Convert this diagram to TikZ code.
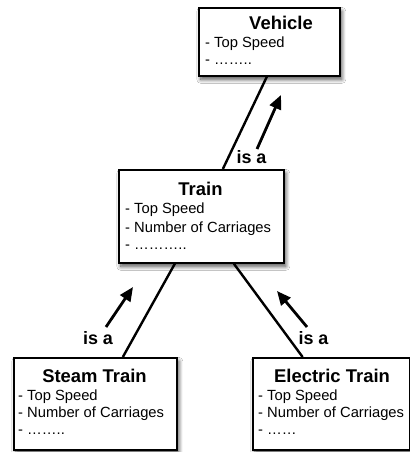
\documentclass[tikz,border=0pt]{standalone}
\usepackage{fontspec}
\setmainfont{Liberation Sans}
\usetikzlibrary{arrows.meta,shadows.blur}
\begin{document}
\begin{tikzpicture}[x=1bp,y=-1bp,
  box/.style={draw, line width=1.7bp, fill=white, inner sep=0pt, anchor=north west,
    blur shadow={shadow xshift=2bp, shadow yshift=-3.5bp, shadow blur radius=4bp, shadow blur steps=10, shadow opacity=70}},
  ttl/.style={font=\fontsize{18.5}{21}\selectfont\bfseries, inner sep=0pt, anchor=base},
  attr/.style={font=\fontsize{14.8}{17}\selectfont, inner sep=0pt, anchor=base west},
  link/.style={line width=2.4bp},
  isa/.style={line width=2.8bp, -{Triangle[length=14bp,width=12bp]}},
  lbl/.style={font=\fontsize{18}{20}\selectfont\bfseries, inner sep=0pt}]
\useasboundingbox (0,0) rectangle (409,452);
\fill[white] (0,0) rectangle (409,452);

% boxes
\node[box, minimum width=141bp, minimum height=68bp] (vehicle) at (198,7) {};
\node[box, minimum width=165bp, minimum height=93bp] (train) at (118,169) {};
\node[box, minimum width=163bp, minimum height=92bp] (steam) at (13,357) {};
\node[box, minimum width=156.5bp, minimum height=92bp] (electric) at (252,357) {};

% Vehicle text
\node[ttl] (vt) at (281,30) {Vehicle};
\node[attr] (v1) at (205,48) {- Top Speed};
\node[attr] (v2) at (205,65) {- ……..};

% Train text
\node[ttl] (tt) at (200.5,196) {Train};
\node[attr] (t1) at (125,214) {- Top Speed};
\node[attr] (t2) at (125,232) {- Number of Carriages};
\node[attr] (t3) at (125,249) {- ………..};

% Steam text
\node[ttl] (st) at (94.5,382) {Steam Train};
\node[attr] (s1) at (18,400) {- Top Speed};
\node[attr] (s2) at (18,417) {- Number of Carriages};
\node[attr] (s3) at (18,434) {- ……..};

% Electric text
\node[ttl] (et) at (332,382) {Electric Train};
\node[attr] (e1) at (258,400) {- Top Speed};
\node[attr] (e2) at (258,417) {- Number of Carriages};
\node[attr] (e3) at (258,434) {- ……};

% connectors
\draw[link] ([xshift=-2.5bp]vehicle.south) -- ([xshift=21.5bp]train.north);
\draw[link] ([xshift=-26.5bp]train.south) -- ([xshift=27.5bp]steam.north);
\draw[link] ([xshift=32.5bp]train.south) -- ([xshift=-28.5bp]electric.north);

% "is a" arrows
\coordinate (a1s) at (257,149); \coordinate (a1e) at (281,95);
\coordinate (a2s) at (106,327); \coordinate (a2e) at (133,287);
\coordinate (a3s) at (307,327); \coordinate (a3e) at (277,291);
\draw[isa] (a1s) -- (a1e);
\draw[isa] (a2s) -- (a2e);
\draw[isa] (a3s) -- (a3e);
\node[lbl] (l1) at (251.5,157) {is a};
\node[lbl] (l2) at (98,338) {is a};
\node[lbl] (l3) at (313.5,338) {is a};
\end{tikzpicture}
\end{document}
